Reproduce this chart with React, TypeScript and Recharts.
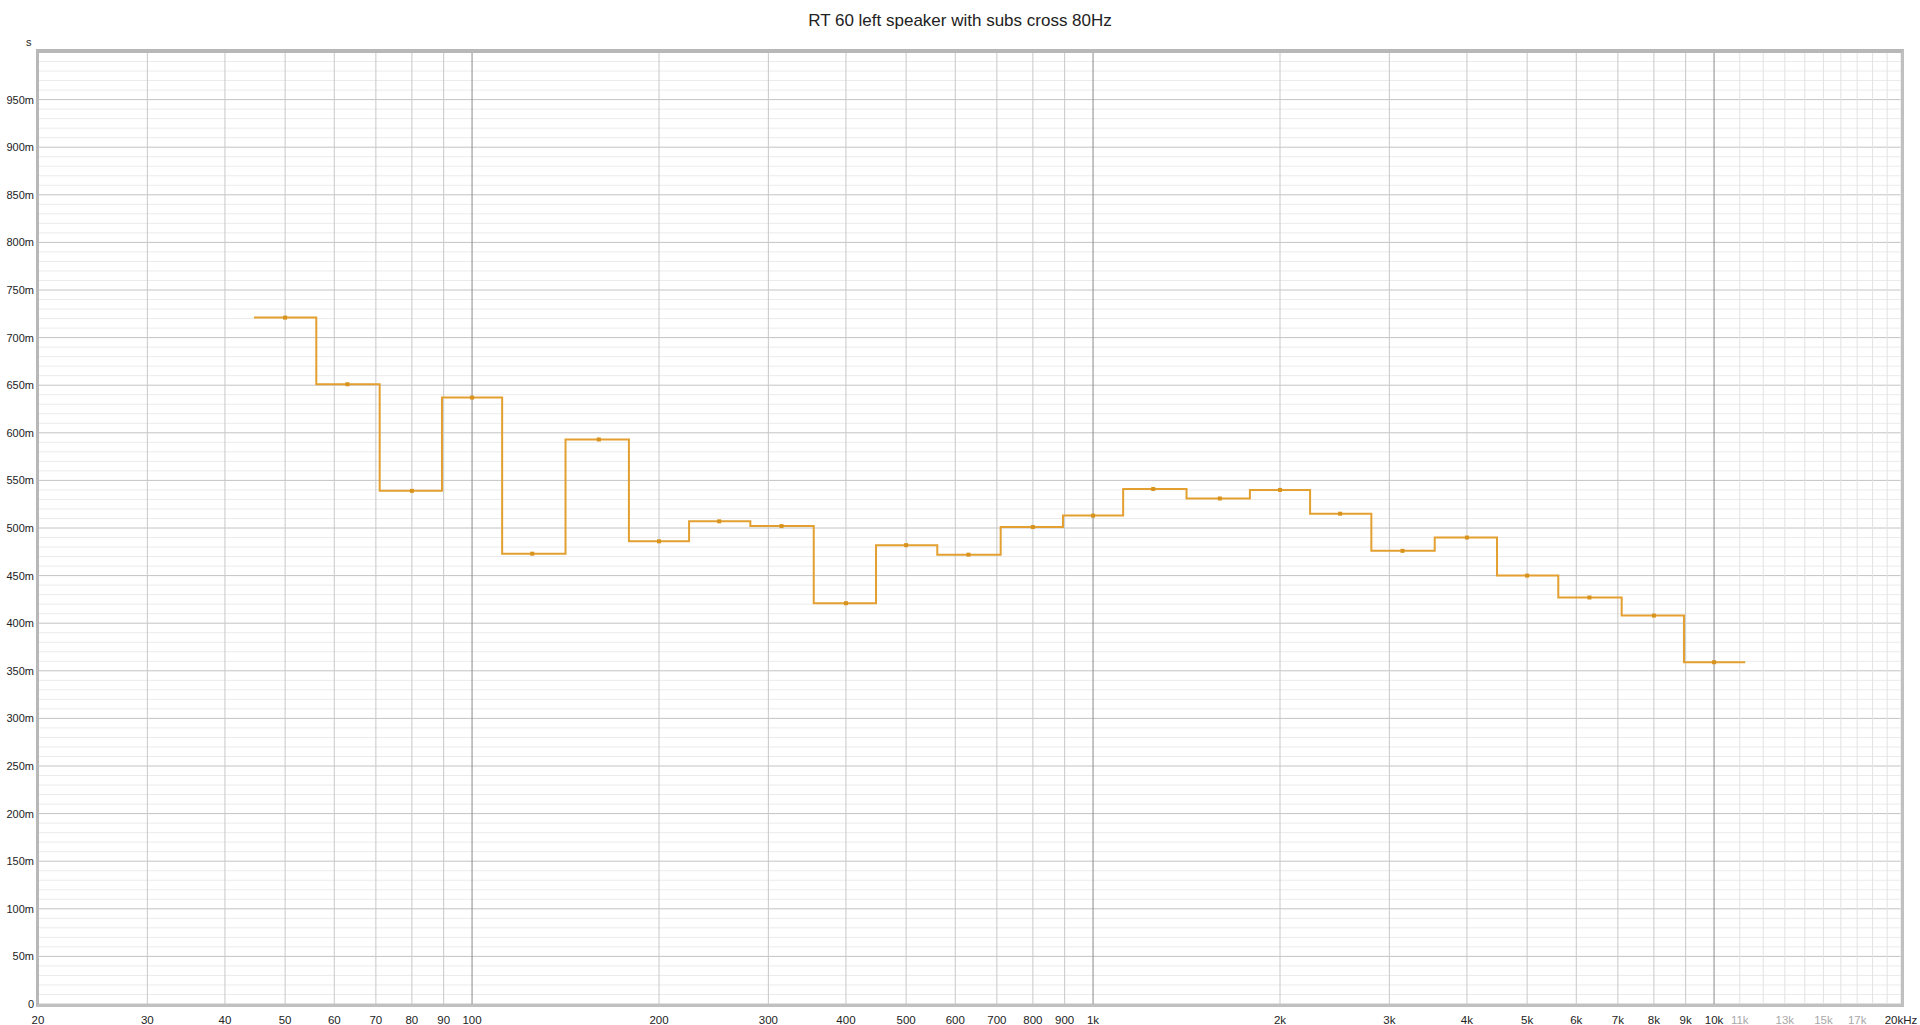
import React from "react";
import {
  ComposedChart,
  Line,
  Scatter,
  XAxis,
  YAxis,
  ReferenceLine,
} from "recharts";

// 1/3-octave band centres (Hz)
const bandCenters = [
  50, 63, 80, 100, 125, 160, 200, 250, 315, 400, 500, 630, 800, 1000, 1250,
  1600, 2000, 2500, 3150, 4000, 5000, 6300, 8000, 10000,
];
// RT60 values (s)
const rt60 = [
  0.721, 0.651, 0.539, 0.637, 0.473, 0.593, 0.486, 0.507, 0.502, 0.421, 0.482,
  0.472, 0.501, 0.513, 0.541, 0.531, 0.54, 0.515, 0.476, 0.49, 0.45, 0.427,
  0.408, 0.359,
];

const xTicks = [
  20, 30, 40, 50, 60, 70, 80, 90, 100, 200, 300, 400, 500, 600, 700, 800, 900,
  1000, 2000, 3000, 4000, 5000, 6000, 7000, 8000, 9000, 10000, 11000, 12000,
  13000, 14000, 15000, 16000, 17000, 18000, 19000, 20000,
];
const xTickLabels: Record<number, string> = {
  20: "20", 30: "30", 40: "40", 50: "50", 60: "60", 70: "70", 80: "80",
  90: "90", 100: "100", 200: "200", 300: "300", 400: "400", 500: "500",
  600: "600", 700: "700", 800: "800", 900: "900", 1000: "1k", 2000: "2k",
  3000: "3k", 4000: "4k", 5000: "5k", 6000: "6k", 7000: "7k", 8000: "8k",
  9000: "9k", 10000: "10k", 11000: "11k", 13000: "13k", 15000: "15k",
  17000: "17k", 20000: "20kHz",
};
const majorX = [100, 1000, 10000];

const yMajor = [
  0, 0.05, 0.1, 0.15, 0.2, 0.25, 0.3, 0.35, 0.4, 0.45, 0.5, 0.55, 0.6, 0.65,
  0.7, 0.75, 0.8, 0.85, 0.9, 0.95,
];

const sixth = Math.pow(2, 1 / 6);
const stepData = bandCenters.map((f, i) => ({
  f: i === 0 ? f / sixth : Math.sqrt(bandCenters[i - 1] * f),
  v: rt60[i],
}));
stepData.push({
  f: bandCenters[bandCenters.length - 1] * sixth,
  v: rt60[rt60.length - 1],
});
const centerData = bandCenters.map((f, i) => ({ f, v: rt60[i] }));

const minorY: number[] = [];
for (let i = 1; i < 100; i++) if (i % 5 !== 0) minorY.push(i / 100);

const XTick = (props: any) => {
  const { x, y, payload } = props;
  const v = payload.value;
  const label = xTickLabels[v];
  if (!label) return null;
  const grey = v > 10000 && v < 20000;
  return (
    <text
      x={x}
      y={y + 12}
      textAnchor="middle"
      fontSize={11.5}
      fontFamily="'Liberation Sans Narrow', 'Liberation Sans', Arial, sans-serif"
      fill={grey ? "#a8a8a8" : "#222"}
    >
      {label}
    </text>
  );
};

const YTick = (props: any) => {
  const { y, payload } = props;
  const v = payload.value;
  const label = v === 0 ? "0" : `${Math.round(v * 1000)}m`;
  return (
    <text
      x={34}
      y={y + 4}
      textAnchor="end"
      fontSize={11}
      fontFamily="'Liberation Sans', Arial, sans-serif"
      fill="#222"
    >
      {label}
    </text>
  );
};

export default function App() {
  return (
    <div
      style={{
        position: "absolute",
        left: 0,
        top: 0,
        width: 1920,
        height: 1025,
        background: "#fff",
        fontFamily: "'Liberation Sans', Arial, sans-serif",
      }}
    >
      <div
        style={{
          position: "absolute",
          left: 0,
          top: 11,
          width: 1920,
          textAlign: "center",
          fontSize: 17,
          color: "#222",
        }}
      >
        RT 60 left speaker with subs cross 80Hz
      </div>
      <div
        style={{
          position: "absolute",
          left: 26,
          top: 36,
          fontSize: 11,
          color: "#222",
        }}
      >
        s
      </div>
      <ComposedChart
        width={1920}
        height={1025}
        margin={{ top: 52, right: 19, left: 0, bottom: 0 }}
      >
        <XAxis
          type="number"
          dataKey="f"
          scale="log"
          domain={[20, 20000]}
          ticks={xTicks}
          interval={0}
          allowDataOverflow
          axisLine={false}
          tickLine={false}
          height={21}
          tick={<XTick />}
        />
        <YAxis
          type="number"
          dataKey="v"
          domain={[0, 1]}
          ticks={yMajor}
          interval={0}
          allowDataOverflow
          axisLine={false}
          tickLine={false}
          width={38}
          tick={<YTick />}
        />
        {minorY.map((v) => (
          <ReferenceLine
            key={`my${v}`}
            y={v}
            stroke="#ebebeb"
            strokeWidth={1}
            ifOverflow="hidden"
          />
        ))}
        {yMajor.map((v) => (
          <ReferenceLine
            key={`My${v}`}
            y={v}
            stroke="#c4c4c4"
            strokeWidth={1}
          />
        ))}
        {xTicks.map((v) => (
          <ReferenceLine
            key={`x${v}`}
            x={v}
            stroke={
              majorX.includes(v) ? "#8a8a8a" : v > 10000 ? "#e2e2e2" : "#c8c8c8"
            }
            strokeWidth={1}
          />
        ))}
        <Line
          data={stepData}
          dataKey="v"
          type="stepAfter"
          stroke="#E3A030"
          strokeWidth={2}
          dot={false}
          isAnimationActive={false}
        />
        <Scatter
          data={centerData}
          dataKey="v"
          fill="#D8921E"
          isAnimationActive={false}
          shape={(p: any) => (
            <rect x={p.cx - 2} y={p.cy - 2} width={4} height={4} fill="#D8921E" />
          )}
        />
      </ComposedChart>
      <div
        style={{
          position: "absolute",
          left: 36,
          top: 49,
          width: 1868,
          height: 958,
          boxSizing: "border-box",
          borderTop: "4px solid #b8b8b8",
          borderLeft: "3px solid #b8b8b8",
          borderRight: "3px solid #c0c0c0",
          borderBottom: "3px solid #c0c0c0",
          pointerEvents: "none",
        }}
      />
    </div>
  );
}
